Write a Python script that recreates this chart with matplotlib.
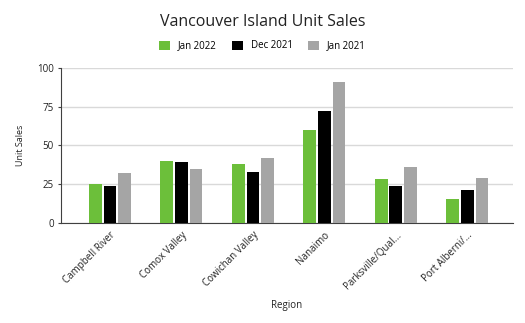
import numpy as np
import matplotlib.pyplot as plt
from matplotlib.patches import Patch

plt.rcParams['font.family'] = ['Open Sans', 'DejaVu Sans']

regions = ['Campbell River', 'Comox Valley', 'Cowichan Valley', 'Nanaimo',
           'Parksville/Qual...', 'Port Alberni/...']
series = ['Jan 2022', 'Dec 2021', 'Jan 2021']
jan_2022 = [25, 40, 38, 60, 28, 15]
dec_2021 = [24, 39, 33, 72, 24, 21]
jan_2021 = [32, 35, 42, 91, 36, 29]
colors = ['#6cbf3a', '#000000', '#a5a5a5']

fig = plt.figure(figsize=(5.25, 3.23), dpi=100)
ax = fig.add_axes([61/525, 1-222.7/323, 452/525, 154.7/323])

x = np.arange(len(regions))
step = 0.205
width = 0.178
for i, (vals, c) in enumerate(zip([jan_2022, dec_2021, jan_2021], colors)):
    ax.bar(x + (i-1)*step, vals, width=width, color=c, zorder=3)

ax.set_ylim(0, 100)
ax.set_xlim(-0.685, 5.64)
ax.set_yticks([0, 25, 50, 75, 100])
ax.grid(axis='y', color='#d9d9d9', linewidth=1, zorder=0)
for s in ['top', 'right']:
    ax.spines[s].set_visible(False)
ax.spines['left'].set_color('#404040')
ax.spines['bottom'].set_color('#404040')
ax.tick_params(axis='y', labelsize=7, length=2, color='#404040', pad=3, labelcolor='#222222')
ax.tick_params(axis='x', length=0, pad=5, labelsize=7, labelcolor='#222222')
ax.set_xticks(x)
ax.set_xticklabels(regions, rotation=45, ha='right', rotation_mode='anchor')
ax.set_ylabel('Unit Sales', fontsize=6.5, labelpad=9, color='#222222')
ax.set_xlabel('Region', fontsize=7, labelpad=6, color='#222222')

fig.text(0.5, 1-22/323, 'Vancouver Island Unit Sales', ha='center', va='center',
         fontsize=11.5, color='#222222')
handles = [Patch(facecolor=c) for c in colors]
fig.legend(handles, series, loc='center', bbox_to_anchor=(0.5, 1-46/323), ncol=3,
           frameon=False, fontsize=7, handlelength=1.1, handleheight=1.1,
           columnspacing=1.6, handletextpad=0.8)

fig.savefig('out.png', dpi=100)
